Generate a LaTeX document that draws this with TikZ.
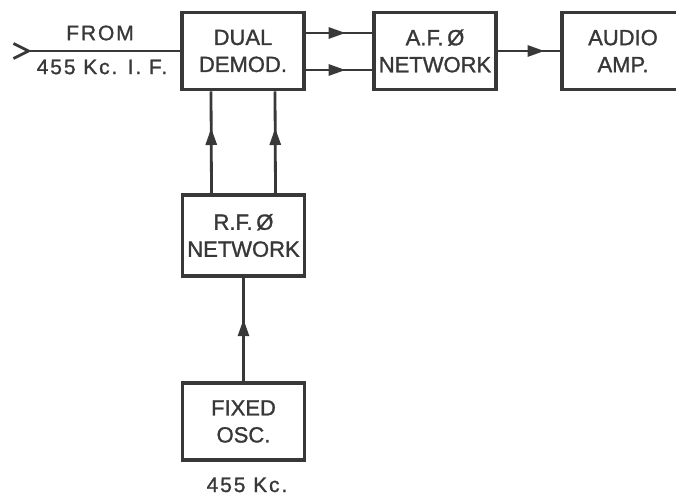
\documentclass[tikz,border=0pt]{standalone}
\usepackage{fontspec}
\setmainfont{Liberation Sans}
\newfontfamily\blkfont{Liberation Sans}[FakeBold=1.2]
\newfontfamily\lblfont{Liberation Sans}[FakeBold=1.2,LetterSpace=9]
\usetikzlibrary{arrows.meta,decorations.markings}
\definecolor{ink}{HTML}{383838}
\begin{document}
\begin{tikzpicture}[
    x=1pt, y=-1pt,
    blk/.style={rectangle, draw=ink, line width=3.8pt, text=ink,
                minimum width=122pt, minimum height=77pt,
                align=center, font=\blkfont\fontsize{22}{27}\selectfont, inner sep=0pt},
    lbl/.style={text=ink, font=\lblfont\fontsize{21}{26}\selectfont, inner sep=0pt},
    wire/.style={draw=ink, line width=2.8pt},
    midarr/.style={postaction={decorate}, decoration={markings,
        mark=at position #1 with {\arrow[ink]{Triangle[length=17pt,width=11pt]}}}}
]
\useasboundingbox (0,0) rectangle (676,497);
\node[blk] (demod) at (243,51) {DUAL\\DEMOD.};
\node[blk] (af) at (435,51) {A.F.\,Ø\\NETWORK};
\node[blk] (amp) at (623,51) {AUDIO\\AMP.};
\node[blk, minimum height=81pt] (rf) at (243.5,235.5) {R.F.\,Ø\\NETWORK};
\node[blk] (osc) at (243.5,421.5) {FIXED\\OSC.};

\node[lbl] (from) at (100,33) {FROM};
\node[lbl] (ifreq) at (102,67) {455 Kc. I. F.};
\node[lbl, anchor=base] (oscfreq) at (247,492) {455 Kc.};

\coordinate (in) at (12,51);

\draw[wire, {Straight Barb[reversed,length=15pt,width=15pt,line width=2.8pt]}-] (in) -- (demod.west);
\draw[wire, midarr=0.6] ([yshift=18pt]demod.east) -- ([yshift=18pt]af.west);
\draw[wire, midarr=0.6] ([yshift=-19pt]demod.east) -- ([yshift=-19pt]af.west);
\draw[wire, midarr=0.75] (af) -- (amp);
\draw[wire, midarr=0.64] ([xshift=-32pt]rf.north) -- ([xshift=-32pt]demod.south);
\draw[wire, midarr=0.64] ([xshift=32pt]rf.north) -- ([xshift=32pt]demod.south);
\draw[wire, midarr=0.6] (osc) -- (rf);
\end{tikzpicture}
\end{document}
